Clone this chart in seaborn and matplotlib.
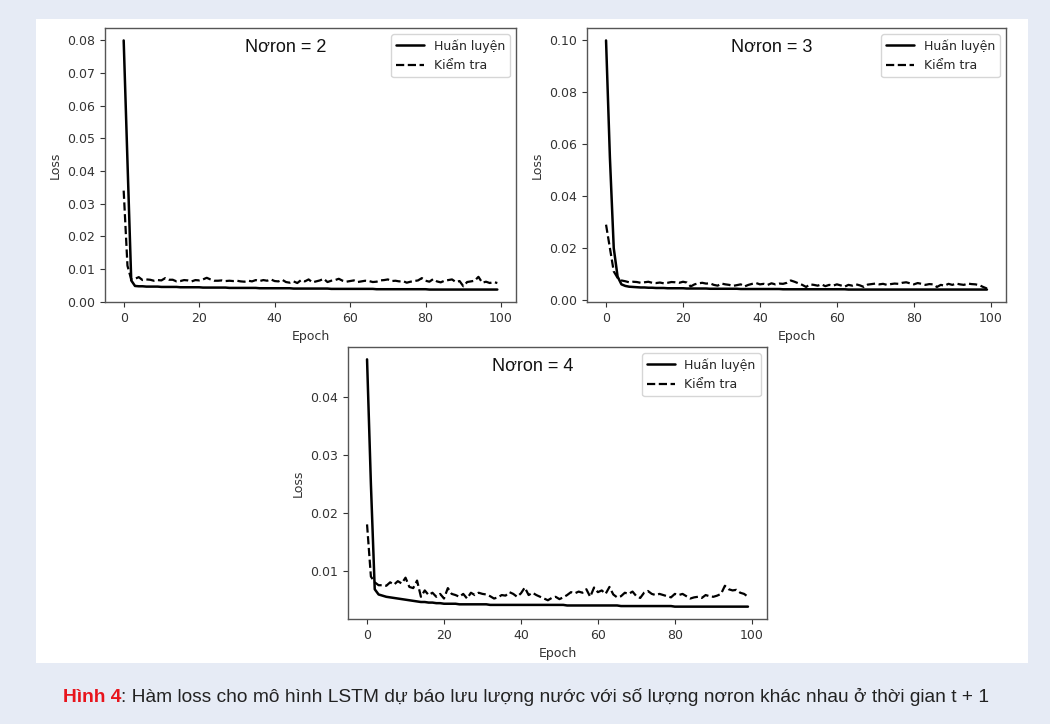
import matplotlib
matplotlib.use("Agg")
import matplotlib.pyplot as plt
import numpy as np
import seaborn as sns
from matplotlib.patches import Rectangle

sns.set_style("ticks")
plt.rcParams['font.family'] = ['DejaVu Sans']

epochs = np.arange(100)

n2_train = [0.0800, 0.0430, 0.0065, 0.0048, 0.0047, 0.0047, 0.0046, 0.0046, 0.0046, 0.0046,
            0.0045, 0.0045, 0.0045, 0.0045, 0.0045, 0.0044, 0.0044, 0.0044, 0.0044, 0.0044,
            0.0044, 0.0043, 0.0043, 0.0043, 0.0043, 0.0043, 0.0043, 0.0043, 0.0042, 0.0042,
            0.0042, 0.0042, 0.0042, 0.0042, 0.0042, 0.0042, 0.0041, 0.0041, 0.0041, 0.0041,
            0.0041, 0.0041, 0.0041, 0.0041, 0.0041, 0.0040, 0.0040, 0.0040, 0.0040, 0.0040,
            0.0040, 0.0040, 0.0040, 0.0040, 0.0040, 0.0039, 0.0039, 0.0039, 0.0039, 0.0039,
            0.0039, 0.0039, 0.0039, 0.0039, 0.0039, 0.0039, 0.0039, 0.0038, 0.0038, 0.0038,
            0.0038, 0.0038, 0.0038, 0.0038, 0.0038, 0.0038, 0.0038, 0.0038, 0.0038, 0.0038,
            0.0038, 0.0037, 0.0037, 0.0037, 0.0037, 0.0037, 0.0037, 0.0037, 0.0037, 0.0037,
            0.0037, 0.0037, 0.0037, 0.0037, 0.0037, 0.0037, 0.0037, 0.0037, 0.0037, 0.0037]
n2_val = [0.0340, 0.0110, 0.0068, 0.0070, 0.0075, 0.0066, 0.0068, 0.0067, 0.0064, 0.0066,
          0.0065, 0.0072, 0.0067, 0.0067, 0.0062, 0.0063, 0.0066, 0.0065, 0.0062, 0.0066,
          0.0065, 0.0068, 0.0073, 0.0068, 0.0064, 0.0064, 0.0065, 0.0063, 0.0064, 0.0063,
          0.0064, 0.0062, 0.0061, 0.0064, 0.0062, 0.0066, 0.0063, 0.0066, 0.0064, 0.0068,
          0.0063, 0.0062, 0.0067, 0.0060, 0.0058, 0.0062, 0.0057, 0.0066, 0.0062, 0.0068,
          0.0059, 0.0062, 0.0065, 0.0070, 0.0060, 0.0064, 0.0066, 0.0070, 0.0064, 0.0061,
          0.0063, 0.0065, 0.0060, 0.0062, 0.0064, 0.0063, 0.0060, 0.0061, 0.0065, 0.0066,
          0.0068, 0.0063, 0.0064, 0.0062, 0.0063, 0.0058, 0.0061, 0.0063, 0.0065, 0.0072,
          0.0064, 0.0061, 0.0069, 0.0062, 0.0059, 0.0064, 0.0066, 0.0068, 0.0060, 0.0063,
          0.0047, 0.0060, 0.0062, 0.0064, 0.0076, 0.0058, 0.0061, 0.0057, 0.0060, 0.0057]

n3_train = [0.1000, 0.0550, 0.0200, 0.0090, 0.0060, 0.0054, 0.0051, 0.0050, 0.0049, 0.0048,
            0.0048, 0.0047, 0.0047, 0.0046, 0.0046, 0.0046, 0.0045, 0.0045, 0.0045, 0.0045,
            0.0045, 0.0044, 0.0044, 0.0044, 0.0044, 0.0044, 0.0044, 0.0043, 0.0043, 0.0043,
            0.0043, 0.0043, 0.0043, 0.0043, 0.0043, 0.0042, 0.0042, 0.0042, 0.0042, 0.0042,
            0.0042, 0.0042, 0.0042, 0.0042, 0.0042, 0.0042, 0.0041, 0.0041, 0.0041, 0.0041,
            0.0041, 0.0041, 0.0041, 0.0041, 0.0041, 0.0041, 0.0041, 0.0041, 0.0041, 0.0041,
            0.0041, 0.0041, 0.0041, 0.0040, 0.0040, 0.0040, 0.0040, 0.0040, 0.0040, 0.0040,
            0.0040, 0.0040, 0.0040, 0.0040, 0.0040, 0.0040, 0.0040, 0.0040, 0.0040, 0.0040,
            0.0040, 0.0040, 0.0040, 0.0040, 0.0040, 0.0040, 0.0040, 0.0040, 0.0040, 0.0040,
            0.0040, 0.0040, 0.0040, 0.0040, 0.0040, 0.0040, 0.0040, 0.0040, 0.0040, 0.0040]
n3_val = [0.0290, 0.0200, 0.0110, 0.0085, 0.0075, 0.0072, 0.0068, 0.0070, 0.0069, 0.0066,
          0.0068, 0.0070, 0.0066, 0.0065, 0.0067, 0.0064, 0.0066, 0.0069, 0.0068, 0.0066,
          0.0070, 0.0067, 0.0052, 0.0060, 0.0064, 0.0066, 0.0063, 0.0064, 0.0058, 0.0055,
          0.0063, 0.0060, 0.0058, 0.0054, 0.0057, 0.0060, 0.0052, 0.0058, 0.0062, 0.0065,
          0.0060, 0.0062, 0.0058, 0.0064, 0.0060, 0.0063, 0.0062, 0.0066, 0.0075, 0.0070,
          0.0064, 0.0058, 0.0050, 0.0060, 0.0058, 0.0055, 0.0060, 0.0053, 0.0058, 0.0055,
          0.0060, 0.0056, 0.0051, 0.0058, 0.0055, 0.0060, 0.0056, 0.0050, 0.0059, 0.0061,
          0.0063, 0.0060, 0.0062, 0.0058, 0.0061, 0.0063, 0.0062, 0.0066, 0.0068, 0.0064,
          0.0060, 0.0065, 0.0062, 0.0058, 0.0061, 0.0060, 0.0050, 0.0058, 0.0055, 0.0062,
          0.0058, 0.0063, 0.0060, 0.0058, 0.0063, 0.0061, 0.0060, 0.0057, 0.0050, 0.0044]

n4_train = [0.0465, 0.0250, 0.0068, 0.0059, 0.0057, 0.0055, 0.0054, 0.0053, 0.0052, 0.0051,
            0.0050, 0.0049, 0.0048, 0.0047, 0.0046, 0.0046, 0.0045, 0.0045, 0.0044, 0.0044,
            0.0043, 0.0043, 0.0043, 0.0043, 0.0042, 0.0042, 0.0042, 0.0042, 0.0042, 0.0042,
            0.0042, 0.0042, 0.0041, 0.0041, 0.0041, 0.0041, 0.0041, 0.0041, 0.0041, 0.0041,
            0.0041, 0.0041, 0.0041, 0.0041, 0.0041, 0.0041, 0.0041, 0.0041, 0.0041, 0.0041,
            0.0041, 0.0041, 0.0040, 0.0040, 0.0040, 0.0040, 0.0040, 0.0040, 0.0040, 0.0040,
            0.0040, 0.0040, 0.0040, 0.0040, 0.0040, 0.0040, 0.0039, 0.0039, 0.0039, 0.0039,
            0.0039, 0.0039, 0.0039, 0.0039, 0.0039, 0.0039, 0.0039, 0.0039, 0.0039, 0.0039,
            0.0038, 0.0038, 0.0038, 0.0038, 0.0038, 0.0038, 0.0038, 0.0038, 0.0038, 0.0038,
            0.0038, 0.0038, 0.0038, 0.0038, 0.0038, 0.0038, 0.0038, 0.0038, 0.0038, 0.0038]
n4_val = [0.0180, 0.0090, 0.0080, 0.0075, 0.0075, 0.0074, 0.0080, 0.0076, 0.0082, 0.0078,
          0.0088, 0.0072, 0.0070, 0.0083, 0.0055, 0.0066, 0.0058, 0.0062, 0.0055, 0.0060,
          0.0052, 0.0070, 0.0060, 0.0058, 0.0055, 0.0060, 0.0052, 0.0062, 0.0058, 0.0062,
          0.0060, 0.0059, 0.0056, 0.0052, 0.0054, 0.0058, 0.0057, 0.0063, 0.0060, 0.0055,
          0.0061, 0.0071, 0.0058, 0.0062, 0.0058, 0.0055, 0.0052, 0.0049, 0.0053, 0.0055,
          0.0051, 0.0054, 0.0058, 0.0063, 0.0061, 0.0064, 0.0062, 0.0068, 0.0055, 0.0071,
          0.0063, 0.0066, 0.0060, 0.0072, 0.0059, 0.0054, 0.0056, 0.0062, 0.0060, 0.0064,
          0.0056, 0.0053, 0.0062, 0.0065, 0.0060, 0.0058, 0.0060, 0.0058, 0.0056, 0.0054,
          0.0060, 0.0058, 0.0060, 0.0056, 0.0052, 0.0054, 0.0055, 0.0053, 0.0058, 0.0056,
          0.0055, 0.0057, 0.0060, 0.0074, 0.0068, 0.0066, 0.0067, 0.0062, 0.0060, 0.0055]

titles = ["Nơron = 2", "Nơron = 3", "Nơron = 4"]
legend_labels = ["Huấn luyện", "Kiểm tra"]
caption_head = "Hình 4"
caption_body = ": Hàm loss cho mô hình LSTM dự báo lưu lượng nước với số lượng nơron khác nhau ở thời gian t + 1"

BG = "#e6ebf5"

fig = plt.figure(figsize=(10.5, 7.24), dpi=100, facecolor=BG)
fig.patches.append(Rectangle((36 / 1050, 61 / 724), 992 / 1050, 644 / 724,
                             transform=fig.transFigure, facecolor="white",
                             edgecolor="none", zorder=-10))

# axes boxes in pixels: left, top, right, bottom
boxes = [(105, 28, 516, 302), (587, 28, 1006, 302), (348, 347, 767, 619)]
series = [(n2_train, n2_val), (n3_train, n3_val), (n4_train, n4_val)]

for (l, t, r, b), (tr, va), title in zip(boxes, series, titles):
    ax = fig.add_axes([l / 1050, 1 - b / 724, (r - l) / 1050, (b - t) / 724])
    sns.lineplot(x=epochs, y=tr, ax=ax, color="black", lw=1.8, label=legend_labels[0])
    sns.lineplot(x=epochs, y=va, ax=ax, color="black", lw=1.6, linestyle="--",
                 label=legend_labels[1])
    ax.set_xticks([0, 20, 40, 60, 80, 100])
    ax.set_xlabel("Epoch", fontsize=9, color="#333")
    ax.set_ylabel("Loss", fontsize=9, color="#333")
    ax.tick_params(labelsize=9, colors="#333", length=3.5)
    for sp in ax.spines.values():
        sp.set_visible(True)
        sp.set_color("#555")
        sp.set_linewidth(1.0)
    ax.text(0.44, 0.93, title, transform=ax.transAxes, ha="center", va="center",
            fontsize=13, family=["Liberation Sans", "DejaVu Sans"], color="#111")
    ax.legend(loc="upper right", fontsize=9, frameon=True, edgecolor="#ccc",
              handlelength=2.2)

cap_font = ["Liberation Sans", "DejaVu Sans"]
t1 = fig.text(63 / 1050, 1 - 697 / 724, caption_head, color="#e8141c", fontsize=13.8,
              fontweight="bold", va="center", ha="left", family=cap_font)
ax0 = fig.axes[0]
ax0.annotate(caption_body, xy=(1, 0), xycoords=t1, va="bottom", ha="left",
             fontsize=13.8, color="#222", annotation_clip=False, family=cap_font)

fig.savefig("out.png", dpi=100, facecolor=BG)
